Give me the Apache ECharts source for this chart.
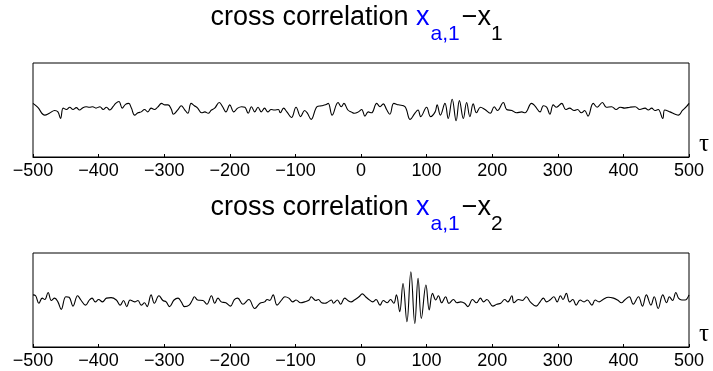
<!DOCTYPE html>
<html>
<head>
<meta charset="utf-8">
<script src="https://cdn.jsdelivr.net/npm/echarts@6/dist/echarts.min.js"></script>
<style>
  html, body {margin: 0; padding: 0; background: #fff;}
  #main {width: 713px; height: 371px;}
</style>
</head>
<body>
<div id="main"></div>
<script>
// lag values (tau) and correlation
const tau1 = [
  -500, -493, -482, -475, -467, -462, -458, -454, -449, -444, -439, -434, -429, -424, -419, -414,
  -409, -404, -398, -393, -388, -383, -378, -374, -369, -364, -359, -354, -350, -345, -340, -335,
  -330, -325, -320, -315, -310, -304, -299, -294, -289, -286, -279, -274, -269, -264,
  -259, -254, -249, -243, -238, -233, -228, -223, -216, -211, -206, -200, -194, -188, -182, -177,
  -172, -167, -162, -157, -152, -147, -142, -137, -132, -126, -123, -118, -113, -106, -99, -92,
  -86, -82, -76, -67, -60, -54, -50, -44, -35, -30, -26, -20,
  -15, -10, -4, 1, 6, 11, 16, 24, 29, 34, 39, 44, 50, 57, 67, 75, 82, 87, 91, 100, 106, 113, 116,
  121, 128, 133, 139, 145, 150, 156, 161, 166, 171, 176, 182, 189, 197, 203, 208, 217, 222, 230,
  237, 245, 250, 260, 265, 273, 278, 283, 288, 293, 298, 306, 312, 318, 325, 330, 336, 341, 346,
  354, 360, 368, 374, 382, 389, 395, 402, 410, 418, 425, 433, 438, 443, 448, 453, 460, 463, 471,
  479, 484, 490, 496, 500
];
const corr1 = [
  0.14, 0.06, -0.11, -0.07, -0.01, -0.04, -0.18, 0.04, 0.01, 0.06, 0.01, 0.05, 0, 0.05, 0.07, 0.06,
  0.07, 0.04, 0.07, 0.01, 0.06, 0, 0.07, 0.14, 0.18, 0.04, 0.12, 0.14, 0.04, -0.11, -0.06, -0.04,
  0.01, -0.04, 0.04, 0.01, 0.06, 0.14, 0.11, 0.11, 0.01, -0.09, 0.01, 0.09, 0.01, -0.07,
  0.14, 0.09, 0.04, -0.06, -0.04, -0.07, 0, 0.04, 0.16, 0.07, -0.04, 0.11, -0.04, 0.04, 0.07, 0.06,
  -0.07, 0.07, -0.04, 0.06, -0.04, 0.04, -0.04, 0.01, 0, 0.01, -0.06, 0.04, -0.04, -0.16, 0.06, -0.14,
  -0.01, -0.06, -0.2, 0.07, 0.09, 0.11, 0.14, -0.11, 0.16, 0.07, 0.14, 0,
  -0.04, -0.07, -0.04, 0.01, -0.13, -0.04, -0.06, 0.14, 0.07, 0.13, 0.01, -0.09, 0.14, 0.11, 0.07, -0.2, -0.07, 0, -0.14, 0.06, -0.14, -0.04, 0.11,
  -0.11, 0.14, -0.18, 0.23, -0.23, 0.2, -0.18, 0.16, -0.14, 0.13, -0.06, 0.06, 0.01, -0.07, 0.07, -0.01, 0.16, 0.01, -0.01,
  -0.06, -0.04, -0.06, 0.14, 0.09, -0.04, 0.09, 0.06, -0.09, 0.11, 0.06, 0.14, 0.01, 0.04, -0.01, 0.01, -0.06, -0.01, -0.13,
  0.14, 0.06, 0.16, 0.06, 0.07, 0.01, 0.06, 0.04, 0.06, 0.07, 0.01, 0.04, 0, 0.04, -0.01, 0.01, -0.18, 0, -0.04,
  -0.09, -0.11, -0.01, 0.07, 0.14
];
const tau2 = [
  -500, -496, -491, -486, -482, -477, -472, -467, -462, -457, -450, -445, -439, -432, -427, -420,
  -414, -410, -405, -400, -394, -388, -381, -373, -367, -362, -357, -352, -345, -340, -335, -330,
  -326, -320, -315, -308, -302, -297, -292, -285, -279, -274, -269, -262, -257,
  -254, -249, -241, -235, -228, -223, -218, -213, -206, -199, -193, -188, -180, -171, -162, -154,
  -147, -143, -139, -134, -128, -121, -116, -110, -104, -99, -92, -86, -79, -76, -69, -65, -60,
  -55, -50, -45, -42, -36, -31, -25, -20,
  -15, -10, -3, 2, 7, 12, 18, 23, 29, 34, 40, 45, 50, 54, 59, 64, 70, 76, 82, 87, 92, 99, 104,
  109, 114, 118, 123, 129, 134, 141, 146, 152, 158, 163, 170, 176, 182, 187, 192, 201, 207, 213,
  219, 224, 230,
  233, 240, 246, 252, 258, 267, 273, 278, 283, 288, 294, 299, 304, 308, 313, 318, 323, 328, 334,
  340, 345, 352, 357, 363, 369, 377, 385, 391, 397, 402, 409, 415, 423, 429, 435, 442, 447, 453,
  460, 466, 470, 475, 480, 484, 489, 494, 500
];
const corr2 = [
  0.11, 0.09, -0.07, 0.04, 0.01, 0.16, -0.01, 0.04, -0.04, -0.2, 0.07, 0.06, -0.13, 0.09, 0, -0.11,
  0, 0.04, -0.04, 0.01, -0.04, 0.04, 0.05, 0, -0.11, -0.01, -0.14, 0, -0.04, -0.01, -0.11, -0.06,
  -0.14, 0.11, -0.07, 0.09, -0.01, -0.04, -0.14, 0, 0.04, -0.04, -0.14, -0.11, 0,
  0.07, 0, -0.01, -0.09, 0.09, -0.07, 0.04, -0.04, -0.06, -0.13, 0.01, 0.04, -0.09, 0.01, -0.18, -0.07,
  -0.04, 0.01, -0.01, 0.11, -0.11, 0, 0.07, 0.04, -0.04, 0, -0.06, -0.04, 0, 0.07, -0.01, 0.01, -0.06,
  -0.07, -0.04, 0, -0.07, 0, -0.09, 0.04, -0.01,
  -0.04, 0, 0.07, 0.13, 0.07, 0.01, -0.04, 0.01, -0.11, -0.01, -0.06, 0.01, -0.07, 0.11, -0.25, 0.35, -0.46, 0.6, -0.5, 0.46, -0.39, 0.32, -0.21,
  0.14, 0, 0.09, -0.06, 0.07, -0.07, 0.01, -0.06, -0.04, -0.07, -0.14, 0.01, -0.06, 0.04, -0.04, 0.01, -0.13, -0.09, -0.07,
  0.01, -0.04, 0.09,
  -0.06, 0.01, -0.01, 0.07, -0.04, -0.13, -0.04, 0.04, -0.04, 0, 0.07, -0.04, 0.09, 0.01, 0.14, -0.04, 0.01, -0.11, 0,
  -0.04, 0, -0.11, 0, -0.04, 0.01, 0.06, 0.04, 0, -0.06, 0, 0.07, -0.09, 0.07, -0.13, 0.11, -0.11, 0.07, -0.18,
  0.11, -0.06, 0.07, -0.01, 0.16, 0.04, 0, 0, 0.11
];
const xTicks = {min: -500, max: 500, interval: 100};

const chart = echarts.init(document.getElementById('main'));

const font = 'Liberation Sans';
const titleRich = {
  n: {fontSize: 27, fontFamily: font, fontWeight: 'normal', color: '#000', verticalAlign: 'top'},
  b: {fontSize: 27, fontFamily: font, fontWeight: 'normal', color: '#0000ff', verticalAlign: 'top', padding: [0, 1, 0, 0]},
  bs: {fontSize: 21, fontFamily: font, fontWeight: 'normal', color: '#0000ff', verticalAlign: 'top', padding: [20, 2, 0, 0]},
  s: {fontSize: 21, fontFamily: font, fontWeight: 'normal', color: '#000', verticalAlign: 'top', padding: [20, 0, 0, 0]}
};

const makeTitle = (sub, top) => ({
  text: '{n|cross correlation }{b|x}{bs|a,1}{n|\u2212x}{s|' + sub + '}',
  left: 'center',
  top: top,
  padding: 0,
  textStyle: {fontWeight: 'normal', rich: titleRich}
});

const makeX = (gridIndex) => ({
  type: 'value',
  gridIndex: gridIndex,
  min: xTicks.min,
  max: xTicks.max,
  interval: xTicks.interval,
  name: '\u03c4',
  nameLocation: 'end',
  nameGap: 10,
  nameTextStyle: {fontFamily: 'Liberation Serif', fontSize: 25, color: '#000', verticalAlign: 'bottom'},
  axisLine: {onZero: false, lineStyle: {color: '#000', width: 1}},
  axisTick: {inside: true, length: 3, lineStyle: {color: '#000'}},
  axisLabel: {
    color: '#000', fontSize: 18, fontFamily: font, margin: 5,
    formatter: (v) => String(v).replace('-', '\u2212')
  },
  splitLine: {show: false}
});

const makeY = (gridIndex) => ({
  type: 'value',
  gridIndex: gridIndex,
  min: -1,
  max: 1,
  axisLine: {show: false},
  axisTick: {show: false},
  axisLabel: {show: false},
  splitLine: {show: false}
});

const makeSeries = (idx, tau, corr) => ({
  type: 'line',
  xAxisIndex: idx,
  yAxisIndex: idx,
  data: tau.map((t, i) => [t, corr[i]]),
  showSymbol: false,
  smooth: 0.4,
  lineStyle: {color: '#000', width: 1.1},
  silent: true
});

chart.setOption({
  animation: false,
  backgroundColor: '#fff',
  title: [makeTitle('1', 4), makeTitle('2', 194)],
  grid: [
    {left: 33, right: 24, top: 63, height: 94, show: true, borderColor: '#000', borderWidth: 1},
    {left: 33, right: 24, top: 253, height: 94, show: true, borderColor: '#000', borderWidth: 1}
  ],
  xAxis: [makeX(0), makeX(1)],
  yAxis: [makeY(0), makeY(1)],
  series: [makeSeries(0, tau1, corr1), makeSeries(1, tau2, corr2)]
});
</script>
</body>
</html>
